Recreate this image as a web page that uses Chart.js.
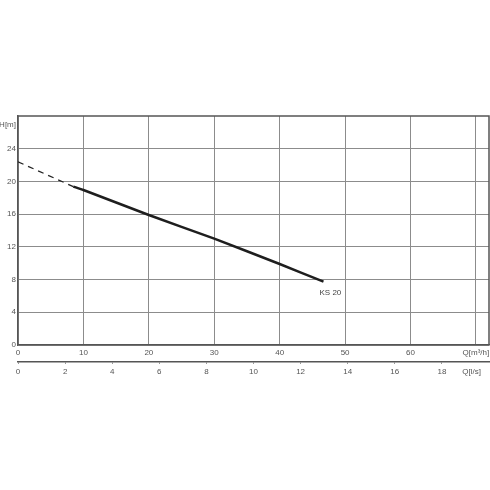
<!DOCTYPE html>
<html>
<head>
<meta charset="utf-8">
<script src="https://cdn.jsdelivr.net/npm/chart.js@4/dist/chart.umd.min.js"></script>
<style>
  html, body { margin: 0; padding: 0; background: #fff; }
</style>
</head>
<body>
<canvas id="chart" width="490" height="490"></canvas>
<script>
// pump curve KS 20
const curveName = "KS 20";
const dashQ = [0, 8.45];
const dashH = [22.4, 19.37];
const curveQ = [8.45, 10, 20, 30, 40, 46.7];
const curveH = [19.37, 18.95, 15.9, 13.0, 9.9, 7.75];

const qTicks = [0, 10, 20, 30, 40, 50, 60, 70];
const lsTicks = [0, 2, 4, 6, 8, 10, 12, 14, 16, 18];
const hTicks = [0, 4, 8, 12, 16, 20, 24];
const qUnit = "Q[m³/h]";
const lsUnit = "Q[l/s]";
const hUnit = "H[m]";

const gridColor = "#8c8c8c";
const axisColor = "#555";
const textColor = "#555";
const tickFont = { family: "Liberation Sans", size: 8 };

// where the unit labels sit on their axes
const lsUnitAt = 19.26;
const hUnitAt = 26.9;

const toPoints = (xs, ys) => xs.map((x, i) => ({ x: x, y: ys[i] }));

// keep the plot area fixed, labels may hang over the edges
const noPadding = (s) => {
  s.paddingLeft = 0;
  s.paddingRight = 0;
  s.paddingTop = 0;
  s.paddingBottom = 0;
};

const framePlugin = {
  id: "frame",
  beforeDatasetsDraw(chart) {
    const a = chart.chartArea;
    const ctx = chart.ctx;
    ctx.save();
    ctx.strokeStyle = axisColor;
    ctx.lineWidth = 1.5;
    ctx.beginPath();
    ctx.moveTo(a.left, a.top);
    ctx.lineTo(a.right, a.top);
    ctx.lineTo(a.right, a.bottom);
    ctx.stroke();
    ctx.restore();
  },
};

const curveLabelPlugin = {
  id: "curveLabel",
  afterDatasetsDraw(chart) {
    const xs = chart.scales.x;
    const ys = chart.scales.y;
    const px = xs.getPixelForValue(curveQ[curveQ.length - 1]);
    const py = ys.getPixelForValue(curveH[curveH.length - 1]);
    const ctx = chart.ctx;
    ctx.save();
    ctx.fillStyle = "#444";
    ctx.font = "8px 'Liberation Sans'";
    ctx.textAlign = "left";
    ctx.textBaseline = "middle";
    ctx.fillText(curveName, px - 4, py + 11);
    ctx.restore();
  },
};

new Chart(document.getElementById("chart"), {
  type: "scatter",
  data: {
    datasets: [
      {
        data: toPoints(dashQ, dashH),
        showLine: true,
        borderColor: "#222",
        borderWidth: 1.3,
        borderDash: [6, 5],
        pointRadius: 0,
      },
      {
        data: toPoints(curveQ, curveH),
        showLine: true,
        borderColor: "#1e1e1e",
        borderWidth: 2.5,
        tension: 0.2,
        pointRadius: 0,
      },
    ],
  },
  options: {
    responsive: false,
    animation: false,
    devicePixelRatio: 1,
    layout: { padding: { top: 116, left: 0, right: 1, bottom: 108 } },
    plugins: {
      legend: { display: false },
      tooltip: { enabled: false },
    },
    scales: {
      x: {
        type: "linear",
        position: "bottom",
        min: 0,
        max: 72,
        afterBuildTicks: (s) => { s.ticks = qTicks.map((v) => ({ value: v })); },
        afterFit: (s) => { s.height = 17; noPadding(s); },
        ticks: {
          callback: (v) => (v === 70 ? qUnit : v),
          autoSkip: false,
          maxRotation: 0,
          padding: 3,
          color: textColor,
          font: tickFont,
        },
        grid: { color: gridColor, drawTicks: false },
        border: { color: axisColor, width: 1.5 },
      },
      x2: {
        type: "linear",
        position: "bottom",
        min: 0,
        max: 20,
        afterBuildTicks: (s) => {
          s.ticks = lsTicks.concat([lsUnitAt]).map((v) => ({ value: v }));
        },
        afterFit: (s) => { s.height = 20; noPadding(s); },
        ticks: {
          callback: (v) => (v === lsUnitAt ? lsUnit : v),
          autoSkip: false,
          maxRotation: 0,
          padding: 3,
          color: textColor,
          font: tickFont,
        },
        grid: {
          drawOnChartArea: false,
          tickLength: 2,
          color: (c) => (c.tick && c.tick.value === lsUnitAt ? "transparent" : "#999"),
        },
        border: { color: axisColor, width: 1.5 },
      },
      y: {
        type: "linear",
        position: "left",
        min: 0,
        max: 28,
        afterBuildTicks: (s) => {
          s.ticks = hTicks.concat([hUnitAt]).map((v) => ({ value: v }));
        },
        afterFit: (s) => { s.width = 18; noPadding(s); },
        ticks: {
          callback: (v) => (v === hUnitAt ? hUnit : v),
          autoSkip: false,
          padding: 2,
          color: textColor,
          font: tickFont,
        },
        grid: {
          drawTicks: false,
          color: (c) => (c.tick && c.tick.value === hUnitAt ? "transparent" : gridColor),
        },
        border: { color: axisColor, width: 1.5 },
      },
    },
  },
  plugins: [framePlugin, curveLabelPlugin],
});
</script>
</body>
</html>
